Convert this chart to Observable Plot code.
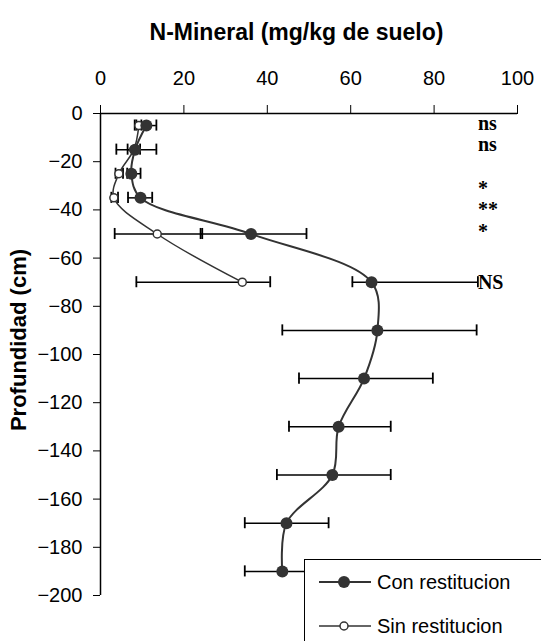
<!DOCTYPE html>
<html><head><meta charset="utf-8">
<script src="https://cdn.jsdelivr.net/npm/d3@7"></script>
<script src="https://cdn.jsdelivr.net/npm/@observablehq/plot@0.6"></script>
<style>
body{margin:0;width:541px;height:641px;overflow:hidden;background:#fff;font-family:"Liberation Sans",Arial,sans-serif;position:relative}
#title{height:50px;line-height:64px;font-weight:bold;font-size:23px;text-align:center;width:541px;padding-left:52px;box-sizing:border-box;color:#000}
#ylab{position:absolute;left:19px;top:340px;transform:translate(-50%,-50%) rotate(-90deg);font-weight:bold;font-size:22px;white-space:nowrap;color:#000}
#legend{position:absolute;left:304px;top:559px;width:260px;height:120px;border:1.5px solid #000;background:#fff}
#legend .row{position:absolute;left:0;height:30px;display:flex;align-items:center}
#legend .row span{font-size:20px;margin-left:6px;color:#000}
</style></head>
<body>
<div id="title">N-Mineral (mg/kg de suelo)</div>
<div id="chart"></div>
<div id="ylab">Profundidad (cm)</div>
<div id="legend">
  <div class="row" style="top:7px;left:14px"><svg width="52" height="30"><line x1="0" y1="15" x2="52" y2="15" stroke="#333" stroke-width="2"/><circle cx="25" cy="15" r="6" fill="#333"/></svg><span>Con restitucion</span></div>
  <div class="row" style="top:51px;left:14px"><svg width="52" height="30"><line x1="0" y1="15" x2="52" y2="15" stroke="#333" stroke-width="1.5"/><circle cx="25" cy="15" r="4" fill="#fff" stroke="#333" stroke-width="1.5"/></svg><span>Sin restitucion</span></div>
</div>
<script>
const conDepth = [-5,-15,-25,-35,-50,-70,-90,-110,-130,-150,-170,-190];
const conMean  = [11,8.3,7.4,9.6,36.1,65,66.4,63.2,57.1,55.6,44.6,43.6];
const conLow   = [8.2,3.8,6.4,6.6,24,60.4,43.6,47.6,45.2,42.3,34.6,34.6];
const conHigh  = [13.4,13.4,9.6,12.4,49.4,90.5,90.2,79.7,69.6,69.6,54.7,52.6];
const sinDepth = [-5,-15,-25,-35,-50,-70];
const sinMean  = [9.2,8,4.4,3.2,13.6,34];
const sinLow   = [8.6,6.5,3.6,2.6,3.4,8.6];
const sinHigh  = [9.8,9.5,5.4,4.2,24.4,40.7];
const annLabel = ["ns","ns","*","**","*","NS"];
const annDepth = [-4,-13,-31,-40,-49,-70];
const annX = 90.5;
const xTicks = [0,20,40,60,80,100];
const yTicks = [-200,-180,-160,-140,-120,-100,-80,-60,-40,-20,0];

const con = conDepth.map((d,i)=>({depth:d, mean:conMean[i], lo:conLow[i], hi:conHigh[i]}));
const sin = sinDepth.map((d,i)=>({depth:d, mean:sinMean[i], lo:sinLow[i], hi:sinHigh[i]}));
const ann = annLabel.map((t,i)=>({label:t, depth:annDepth[i], x:annX}));
const bars = [...sin, ...con];
const cap = 2.3;

const chart = Plot.plot({
  width: 541, height: 591,
  marginTop: 63, marginBottom: 46, marginLeft: 100, marginRight: 24,
  style: {fontFamily: '"Liberation Sans", Arial, sans-serif', fontSize: "20px", color: "#000", background: "#fff"},
  x: {domain: [0,100], axis: "top", ticks: xTicks, tickSize: 9, tickPadding: 20, label: null},
  y: {domain: [-200,0], ticks: yTicks, tickSize: 7, tickPadding: 11, label: null},
  marks: [
    Plot.ruleY([0], {stroke: "#000", strokeWidth: 1.5}),
    Plot.ruleX([0], {stroke: "#000", strokeWidth: 1.5}),
    Plot.ruleY(bars, {y: "depth", x1: "lo", x2: "hi", stroke: "#000", strokeWidth: 1.5}),
    Plot.ruleX(bars, {x: "lo", y1: d => d.depth - cap, y2: d => d.depth + cap, stroke: "#000", strokeWidth: 1.8}),
    Plot.ruleX(bars, {x: "hi", y1: d => d.depth - cap, y2: d => d.depth + cap, stroke: "#000", strokeWidth: 1.8}),
    Plot.line(sin, {x: "mean", y: "depth", curve: "catmull-rom", stroke: "#333", strokeWidth: 1.5}),
    Plot.line(con, {x: "mean", y: "depth", curve: "catmull-rom", stroke: "#333", strokeWidth: 2}),
    Plot.dot(sin, {x: "mean", y: "depth", r: 4, fill: "#fff", stroke: "#333", strokeWidth: 1.5}),
    Plot.dot(con, {x: "mean", y: "depth", r: 6, fill: "#333", stroke: "none"}),
    Plot.text(ann, {x: "x", y: "depth", text: "label", textAnchor: "start", fontFamily: '"Liberation Serif", "Times New Roman", serif', fontWeight: "bold", fontSize: 20, fill: "#000"})
  ]
});
document.getElementById("chart").appendChild(chart);
</script>
</body></html>
